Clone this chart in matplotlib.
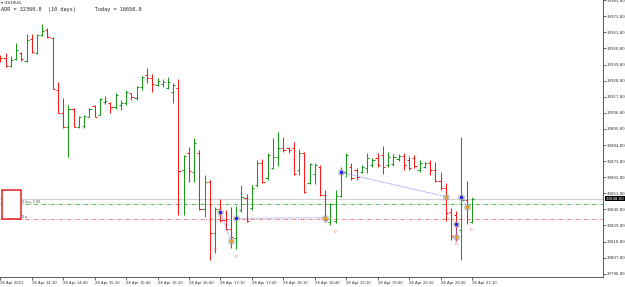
import numpy as np
import pandas as pd
import matplotlib
matplotlib.use("Agg")
from matplotlib import pyplot as plt
from matplotlib.patches import Rectangle

# 5 minute bars, 28 Apr 2021 13:40 .. 21:10
times = pd.date_range("2021-04-28 13:40", periods=91, freq="5min")

opens = [33944.9, 33944.3, 33938.8, 33943.6, 33947.7, 33942.2, 33957.2, 33947.7, 33960.0, 33963.4,
         33957.9, 33922.4, 33906.7, 33897.1, 33909.4, 33897.1, 33898.0, 33903.9, 33911.4, 33905.3,
         33914.2, 33913.5, 33910.8, 33912.1, 33913.5, 33920.3, 33916.9, 33924.4, 33932.6, 33930.6,
         33925.8, 33926.5, 33923.8, 33921.0, 33923.8, 33867.7, 33879.3, 33866.3, 33879.3, 33841.0,
         33859.5, 33824.6, 33841.0, 33833.5, 33827.4, 33821.2, 33840.4, 33848.6, 33841.7, 33857.5,
         33872.5, 33862.2, 33869.1, 33876.6, 33882.7, 33882.7, 33882.7, 33867.7, 33879.3, 33858.8,
         33865.0, 33869.8, 33850.6, 33832.2, 33832.8, 33849.9, 33866.3, 33869.8, 33867.7, 33866.3,
         33869.1, 33871.1, 33875.9, 33878.0, 33871.1, 33871.8, 33875.2, 33877.3, 33874.5, 33875.9,
         33867.7, 33869.8, 33872.5, 33867.7, 33860.2, 33855.4, 33839.0, 33836.9, 33826.7, 33847.2,
         33832.2]
highs = [33946.3, 33947.7, 33945.6, 33954.5, 33948.4, 33960.7, 33960.7, 33960.7, 33967.5, 33964.8,
         33958.6, 33927.9, 33916.9, 33912.1, 33910.1, 33904.6, 33905.3, 33910.1, 33912.1, 33916.9,
         33918.3, 33914.2, 33920.3, 33915.5, 33922.4, 33920.3, 33925.1, 33932.0, 33937.4, 33933.3,
         33930.6, 33929.9, 33931.3, 33927.2, 33929.9, 33878.0, 33883.4, 33889.6, 33881.4, 33864.3,
         33860.9, 33842.4, 33847.9, 33840.4, 33842.4, 33843.1, 33857.5, 33851.3, 33857.5, 33874.5,
         33875.2, 33879.3, 33889.6, 33893.7, 33890.3, 33883.4, 33886.8, 33882.1, 33880.0, 33872.5,
         33872.5, 33871.1, 33854.0, 33845.1, 33854.0, 33869.8, 33879.3, 33872.5, 33869.1, 33871.1,
         33879.3, 33875.9, 33879.3, 33884.1, 33880.0, 33878.6, 33878.6, 33879.3, 33877.3, 33878.0,
         33874.5, 33873.2, 33874.5, 33873.2, 33866.3, 33858.8, 33841.7, 33839.7, 33890.3, 33860.2,
         33849.3]
lows = [33941.5, 33938.1, 33938.1, 33942.9, 33942.2, 33941.5, 33947.7, 33947.0, 33959.3, 33957.9,
        33923.1, 33906.7, 33896.4, 33876.6, 33897.1, 33896.4, 33896.4, 33903.9, 33903.9, 33905.3,
        33912.8, 33906.7, 33909.4, 33908.7, 33912.1, 33915.5, 33915.5, 33922.4, 33927.2, 33921.0,
        33925.1, 33924.4, 33923.1, 33913.5, 33836.9, 33836.9, 33859.5, 33859.5, 33840.4, 33835.6,
        33806.2, 33811.0, 33832.2, 33826.7, 33814.4, 33813.7, 33839.0, 33832.2, 33840.4, 33856.1,
        33858.8, 33860.9, 33868.4, 33870.4, 33880.0, 33879.3, 33864.3, 33864.3, 33852.0, 33858.1,
        33858.1, 33849.9, 33832.2, 33830.1, 33831.5, 33849.3, 33862.9, 33860.9, 33860.9, 33865.7,
        33865.7, 33869.8, 33869.8, 33865.0, 33869.8, 33870.4, 33873.9, 33867.7, 33867.7, 33869.1,
        33866.3, 33869.1, 33864.3, 33859.5, 33854.0, 33832.8, 33819.9, 33819.2, 33806.2, 33830.8,
        33831.5]
closes = [33944.3, 33938.8, 33942.9, 33949.7, 33943.6, 33956.6, 33948.4, 33960.0, 33962.7, 33958.6,
          33923.1, 33906.7, 33897.1, 33909.4, 33897.1, 33903.9, 33904.6, 33909.4, 33903.9, 33916.2,
          33914.9, 33910.8, 33919.0, 33913.5, 33921.0, 33917.6, 33924.4, 33931.3, 33930.6, 33926.5,
          33928.5, 33927.9, 33927.9, 33925.8, 33867.0, 33877.3, 33867.0, 33886.2, 33841.0, 33859.5,
          33824.6, 33841.0, 33833.5, 33827.4, 33821.9, 33834.9, 33849.3, 33832.8, 33855.4, 33872.5,
          33859.5, 33878.0, 33876.6, 33882.7, 33881.4, 33881.4, 33865.0, 33879.3, 33852.7, 33871.8,
          33871.1, 33850.6, 33833.5, 33844.5, 33849.9, 33865.7, 33878.0, 33862.2, 33863.0, 33869.8,
          33875.9, 33874.5, 33871.1, 33869.8, 33876.6, 33876.6, 33877.3, 33871.1, 33869.1, 33870.4,
          33872.5, 33872.5, 33867.7, 33860.2, 33855.4, 33838.3, 33822.6, 33829.4, 33847.2, 33843.1,
          33848.0]

bid = 33848.0
buy_level = 33844.2
sl_level = 33833.9

# trades: (bar open, price open, bar close, price close)
trades = [(42, 33839.2, 44, 33819.4),
          (45, 33834.7, 62, 33835.1),
          (65, 33866.1, 85, 33849.5),
          (88, 33849.3, 89, 33842.6),
          (87, 33830.6, 87, 33822.1)]
zero_marks = [(40.9, 33813.7), (45.0, 33808.1), (63.9, 33825.2), (86.9, 33817.0), (89.8, 33826.7)]

y_ticks = np.arange(33796.8, 33990.0, 11.0)

fig = plt.figure(figsize=(6.25, 2.87), dpi=100)
ax = fig.add_axes([0, 10 / 287, 603 / 625, 277 / 287])

x = np.arange(len(times))
o = np.array(opens); h = np.array(highs); l = np.array(lows); c = np.array(closes)
cols = np.where(c >= o, '#1a9a1a', '#ff1a1a')
lw = 0.75
ax.vlines(x, l, h, colors=cols, linewidth=lw, zorder=3)
ax.hlines(o, x - 0.42, x, colors=cols, linewidth=lw, zorder=3)
ax.hlines(c, x, x + 0.42, colors=cols, linewidth=lw, zorder=3)

# levels
ax.axhline(bid, color='#cfcfcf', linewidth=0.8, zorder=1)
ax.axhline(buy_level, color='#40b040', linewidth=0.6, linestyle=(0, (5, 2, 1, 2)), zorder=2)
ax.axhline(sl_level, color='#f07070', linewidth=0.6, linestyle=(0, (5, 2, 1, 2)), zorder=2)

# trade history
for b0, p0, b1, p1 in trades:
    ax.plot([b0, b1], [p0, p1], color='#7070ff', linewidth=0.6, linestyle=(0, (1, 1)), zorder=4)
    ax.plot(b0, p0, 'o', ms=5, color='#a0a0a0', alpha=0.6, mec='none', zorder=5)
    ax.plot(b0, p0, 's', ms=1.2, color='#2020ff', zorder=6)
    ax.plot(b1, p1, 'o', ms=5, color='#a0a0a0', alpha=0.6, mec='none', zorder=5)
    ax.plot(b1, p1, 's', ms=1.2, color='#e0a020', zorder=6)
for bx, py in zero_marks:
    ax.text(bx, py, '0', color='#ff6060', fontsize=3.2, ha='center', va='center')

# order box on the left
ax.add_patch(Rectangle((0.32, 33834.2), 3.6, 19.8, facecolor='white', edgecolor='#e02020',
                       linewidth=1.1, zorder=6))
ax.text(4.1, buy_level + 1.4, '0 buy 3.00', fontsize=2.4, color='#505050', va='center')
ax.text(4.1, sl_level + 1.4, '0 p', fontsize=2.4, color='#505050', va='center')

ax.set_xlim(-0.057, 115.0)
ax.set_ylim(33794.6, 33983.9)

xt = x[::6]
xl = [times[0].strftime('%d %b %Y')] + [t.strftime('%d %b %H:%M') for t in times[6::6]]
ax.set_xticks(xt)
ax.set_xticklabels(xl, fontsize=2.7, ha='left')
ax.yaxis.tick_right()
ax.set_yticks(y_ticks)
ax.set_yticklabels(['%.2f' % v for v in y_ticks], fontsize=2.8)
ax.tick_params(axis='both', length=2, width=0.5, pad=1, colors='#303030')

for s in ['top', 'left']:
    ax.spines[s].set_visible(False)
for s in ['right', 'bottom']:
    ax.spines[s].set_color('#404040')
    ax.spines[s].set_linewidth(0.6)

ax.text(1.004, bid, '%.2f' % bid, transform=ax.get_yaxis_transform(), fontsize=2.8,
        color='white', va='center', ha='left',
        bbox=dict(boxstyle='square,pad=0.15', facecolor='black', edgecolor='none'))

fig.text(0.002, 1 - 2.5 / 287, '\u25be US30US', fontsize=3.0, va='center', color='#202020')
fig.text(0.002, 1 - 10 / 287, 'ADR = 32360.0  (10 days)      Today = 16650.0',
         family='DejaVu Sans Mono', fontsize=3.7, va='center', color='#202020')

fig.savefig('out.png', dpi=100)
